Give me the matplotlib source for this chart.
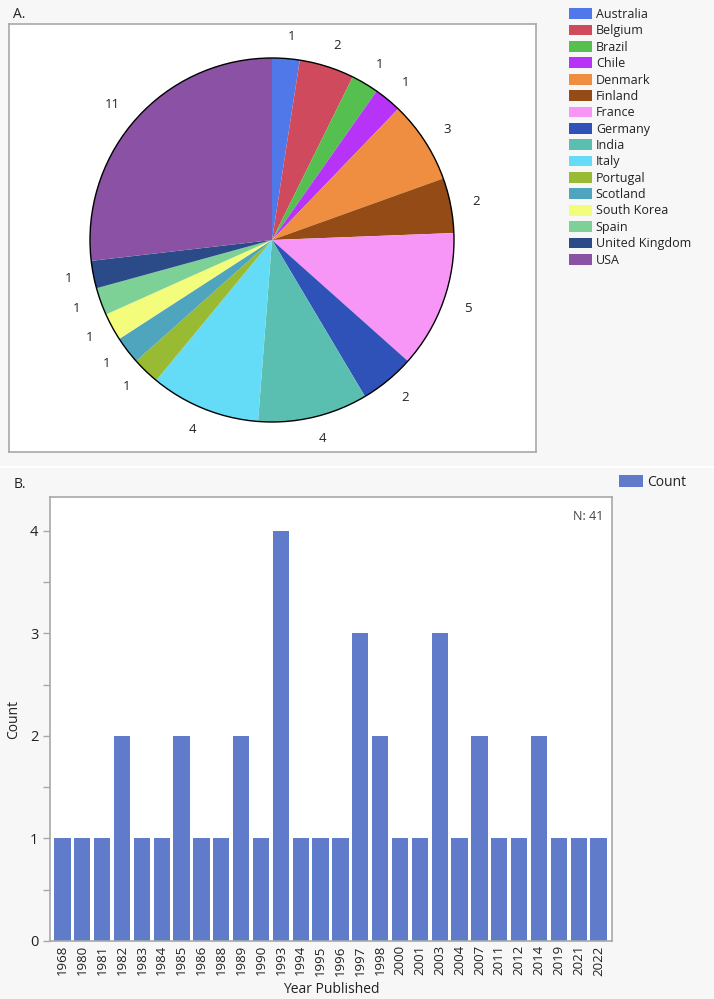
import numpy as np
import matplotlib.pyplot as plt
from matplotlib.patches import Circle

plt.rcParams['font.family'] = ['Open Sans', 'DejaVu Sans']

# panel A data
countries = ["Australia", "Belgium", "Brazil", "Chile", "Denmark", "Finland", "France",
             "Germany", "India", "Italy", "Portugal", "Scotland", "South Korea", "Spain",
             "United Kingdom", "USA"]
country_counts = [1, 2, 1, 1, 3, 2, 5, 2, 4, 4, 1, 1, 1, 1, 1, 11]
country_colors = ["#5078e8", "#d04a5e", "#55c04f", "#b733f8", "#ef8d40", "#944b15",
                  "#f896f8", "#2e52b8", "#5abfb0", "#64dcf8", "#98bb33", "#4fa5bd",
                  "#f3fc7b", "#7dd096", "#2b4a88", "#8b51a4"]

# panel B data
years = ["1968", "1980", "1981", "1982", "1983", "1984", "1985", "1986", "1988", "1989",
         "1990", "1993", "1994", "1995", "1996", "1997", "1998", "2000", "2001", "2003",
         "2004", "2007", "2011", "2012", "2014", "2019", "2021", "2022"]
year_counts = [1, 1, 1, 2, 1, 1, 2, 1, 1, 2, 1, 4, 1, 1, 1, 3, 2, 1, 1, 3, 1, 2, 1, 1, 2, 1, 1, 1]

W, H = 714, 999
bg = "#f7f7f7"
spine_c = "#a8a8a8"
txt_c = "#222222"
bar_c = "#5f7bc9"

fig = plt.figure(figsize=(W / 100, H / 100), dpi=100, facecolor=bg)

# separator between panels
fig.add_artist(plt.Line2D([0, 1], [1 - 467 / H, 1 - 467 / H], transform=fig.transFigure,
                          color="white", lw=1.5))

# ---- panel A: pie
ax1 = fig.add_axes([9 / W, 1 - 452 / H, 527 / W, 428 / H])
wedges, texts = ax1.pie(country_counts, colors=country_colors, startangle=90,
                        counterclock=False, labels=[str(c) for c in country_counts],
                        labeldistance=1.12, wedgeprops=dict(linewidth=0),
                        textprops=dict(fontsize=9.5, color=txt_c))
ax1.add_patch(Circle((0, 0), 1, fill=False, edgecolor="black", lw=1))
r = 182
ax1.set_aspect("auto")
ax1.set_xlim(-263 / r, 264 / r)
ax1.set_ylim(-212 / r, 216 / r)
ax1.set_frame_on(True)
ax1.set_facecolor("white")
for s in ax1.spines.values():
    s.set_color(spine_c)
    s.set_linewidth(1.2)
ax1.set_xticks([])
ax1.set_yticks([])
fig.text(13 / W, 1 - 14 / H, "A.", fontsize=10, color=txt_c, va="center", ha="left")

fig.legend(wedges, countries, loc="upper left", bbox_to_anchor=(569 / W, 1 - 8 / H),
           frameon=False, fontsize=9, handlelength=1.8, handleheight=0.95,
           handletextpad=0.35, labelspacing=0.27, borderpad=0, borderaxespad=0,
           labelcolor=txt_c)

# ---- panel B: bars
ax2 = fig.add_axes([50 / W, 1 - 941 / H, 562 / W, 444 / H])
x = np.arange(len(years))
bars = ax2.bar(x, year_counts, width=0.82, color=bar_c, label="Count", zorder=2)
ax2.set_xlim(-0.63, len(years) - 1 + 0.68)
ax2.set_ylim(0, 4.33)
ax2.set_xticks(x)
ax2.set_xticklabels(years, rotation=90, fontsize=9.5, color=txt_c)
ax2.set_yticks([0, 1, 2, 3, 4])
ax2.set_yticks(np.arange(0.5, 4.5, 1), minor=True)
ax2.tick_params(axis="y", labelsize=10.5, colors=spine_c, labelcolor=txt_c, length=5, width=1)
ax2.tick_params(axis="y", which="minor", colors=spine_c, length=5, width=1)
ax2.tick_params(axis="x", length=0, pad=3)
for s in ax2.spines.values():
    s.set_color(spine_c)
    s.set_linewidth(1.2)
ax2.set_xlabel("Year Published", fontsize=10, color=txt_c, labelpad=5)
ax2.set_ylabel("Count", fontsize=10, color=txt_c, labelpad=6)
ax2.text(0.985, 0.955, "N: " + str(sum(year_counts)), transform=ax2.transAxes,
         ha="right", va="center", fontsize=9, color="#444444")
fig.text(14 / W, 1 - 484 / H, "B.", fontsize=10, color=txt_c, va="center", ha="left")
fig.legend([bars], ["Count"], loc="upper left", bbox_to_anchor=(619 / W, 1 - 475 / H),
           frameon=False, fontsize=10, handlelength=1.7, handleheight=1.0,
           handletextpad=0.3, borderpad=0, borderaxespad=0, labelcolor=txt_c)

fig.savefig("out.png", dpi=100, facecolor=bg)
